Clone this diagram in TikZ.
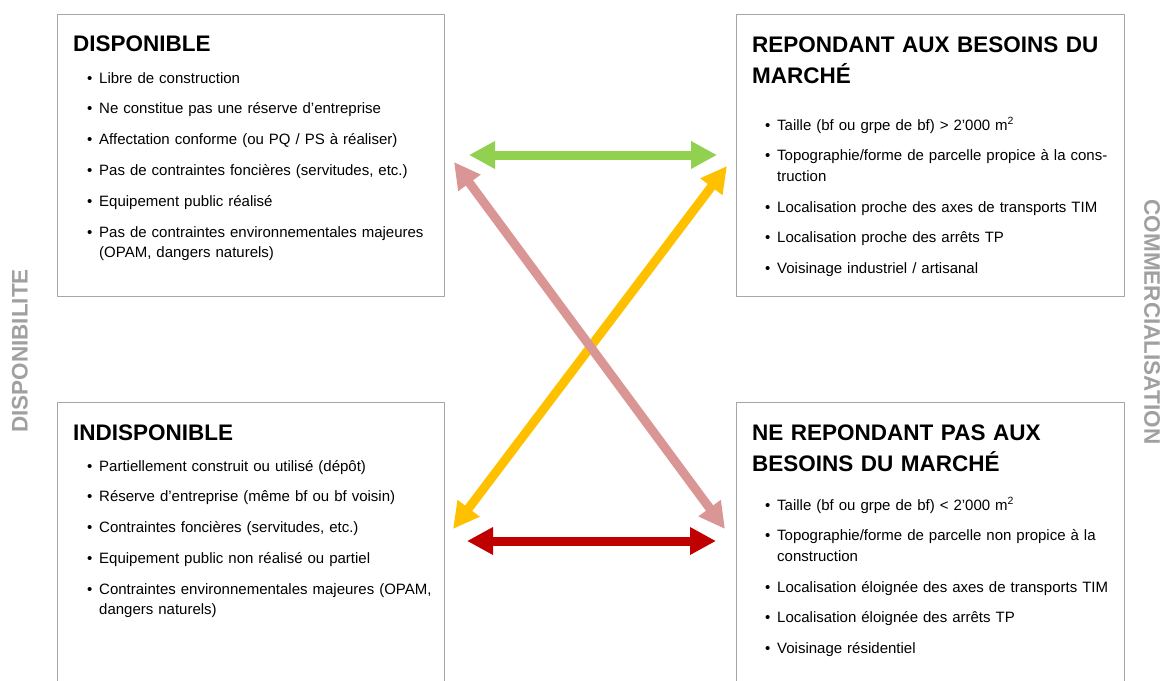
\documentclass[tikz,border=0pt]{standalone}
\usepackage{fontspec}
\setmainfont{Liberation Sans}
\usetikzlibrary{arrows.meta}
\definecolor{cadre}{HTML}{A6A6A6}
\definecolor{axe}{HTML}{A0A0A0}
\definecolor{vert}{HTML}{92D050}
\definecolor{jaune}{HTML}{FFC000}
\definecolor{rose}{HTML}{D99694}
\definecolor{rouge}{HTML}{C00000}
\newcommand{\puce}[1]{\noindent\makebox[12pt][l]{•}#1\par}
\newcommand{\suite}[1]{\vspace{-10.3pt}\noindent\hspace*{12pt}#1\par}

\begin{document}
\begin{tikzpicture}[x=1pt,y=-1pt,line join=round,
  boite/.style={draw=cadre,line width=1.2pt,anchor=north west,inner sep=0pt},
  titre/.style={anchor=base west,inner sep=0pt,text width=380pt,align=left,
    font=\fontsize{22.5}{31}\selectfont\bfseries},
  liste/.style={anchor=base west,inner sep=0pt,text width=380pt,align=left,
    font=\fontsize{15}{20.5}\selectfont},
  axetxt/.style={text=axe,inner sep=0pt,font=\fontsize{22.5}{27}\selectfont\bfseries},
  fleche/.style={line width=9pt,{Triangle[length=26pt,width=26pt]}-{Triangle[length=26pt,width=26pt]}}]
  \useasboundingbox (0,0) rectangle (1166,680);

  % Four quadrants.
  \node[boite,minimum width=387pt,minimum height=282pt] (dispo) at (57,14) {};
  \node[boite,minimum width=388pt,minimum height=282pt] (marche) at (736,14) {};
  \node[boite,minimum width=387pt,minimum height=290pt] (indispo) at (57,402) {};
  \node[boite,minimum width=388pt,minimum height=290pt] (nonmarche) at (736,402) {};

  % Axis labels.
  \node[axetxt,rotate=90] (dispoAxe) at (20,351) {DISPONIBILITE};
  \node[axetxt,rotate=-90] (commAxe) at (1152,322) {COMMERCIALISATION};

  % Titles.
  \node[titre] (dispoT) at (73,51) {DISPONIBLE};
  \node[titre] (marcheT) at (752,52) {REPONDANT AUX BESOINS DU\\MARCHÉ};
  \node[titre] (indispoT) at (73,440) {INDISPONIBLE};
  \node[titre] (nonmarcheT) at (752,440) {NE REPONDANT PAS AUX\\BESOINS DU MARCHÉ};

  % Criteria lists.
  \node[liste] (dispoL) at (87,83) {\setlength{\parskip}{10.3pt}%
    \puce{Libre de construction}
    \puce{Ne constitue pas une réserve d’entreprise}
    \puce{Affectation conforme (ou PQ / PS à réaliser)}
    \puce{Pas de contraintes foncières (servitudes, etc.)}
    \puce{Equipement public réalisé}
    \puce{Pas de contraintes environnementales majeures}
    \suite{(OPAM, dangers naturels)}};
  \node[liste] (marcheL) at (765,130) {\setlength{\parskip}{10.3pt}%
    \puce{Taille (bf ou grpe de bf) > 2’000 m\textsuperscript{2}}
    \puce{Topographie/forme de parcelle propice à la cons-}
    \suite{truction}
    \puce{Localisation proche des axes de transports TIM}
    \puce{Localisation proche des arrêts TP}
    \puce{Voisinage industriel / artisanal}};
  \node[liste] (indispoL) at (87,471) {\setlength{\parskip}{10.3pt}%
    \puce{Partiellement construit ou utilisé (dépôt)}
    \puce{Réserve d’entreprise (même bf ou bf voisin)}
    \puce{Contraintes foncières (servitudes, etc.)}
    \puce{Equipement public non réalisé ou partiel}
    \puce{Contraintes environnementales majeures (OPAM,}
    \suite{dangers naturels)}};
  \node[liste] (nonmarcheL) at (765,510) {\setlength{\parskip}{10.3pt}%
    \puce{Taille (bf ou grpe de bf) < 2’000 m\textsuperscript{2}}
    \puce{Topographie/forme de parcelle non propice à la}
    \suite{construction}
    \puce{Localisation éloignée des axes de transports TIM}
    \puce{Localisation éloignée des arrêts TP}
    \puce{Voisinage résidentiel}};

  % Arrow ends between the quadrants.
  \coordinate (vertG) at (469,155);
  \coordinate (vertD) at (717,155);
  \coordinate (rougeG) at (467,541);
  \coordinate (rougeD) at (716,541);
  \coordinate (roseH) at (454,162);
  \coordinate (roseB) at (725,529);
  \coordinate (jauneH) at (727,166);
  \coordinate (jauneB) at (453,529);

  \draw[fleche,vert] (vertG) -- (vertD);
  \draw[fleche,rouge] (rougeG) -- (rougeD);
  \draw[fleche,jaune] (jauneB) -- (jauneH);
  \draw[fleche,rose] (roseH) -- (roseB);
\end{tikzpicture}
\end{document}
